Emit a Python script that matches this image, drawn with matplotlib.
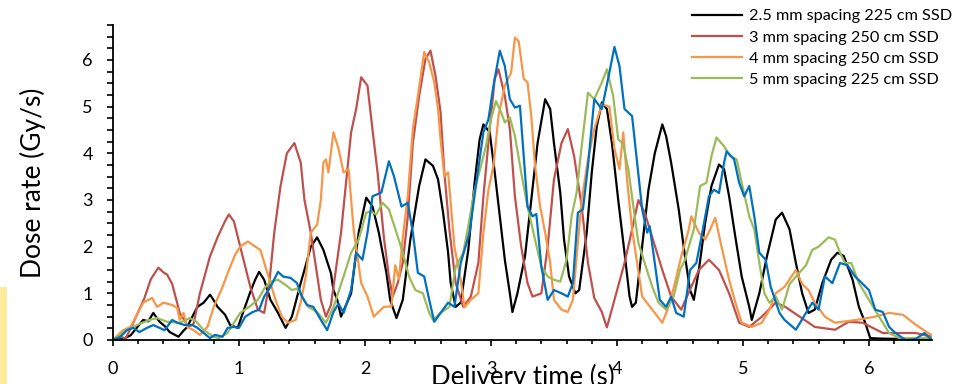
import matplotlib
matplotlib.use('Agg')
import matplotlib.pyplot as plt
from matplotlib.patches import Rectangle
from matplotlib.ticker import MultipleLocator

plt.rcParams['font.family'] = ['Lato', 'DejaVu Sans']

# Dose rate traces (time in s, dose rate in Gy/s)
t_black = [0, 0.08, 0.14, 0.2, 0.24, 0.28, 0.32, 0.37, 0.41, 0.45, 0.52, 0.56, 0.59, 0.63, 0.67, 0.72,
           0.77, 0.8, 0.83, 0.89, 0.93, 0.99, 1.04, 1.09, 1.13, 1.16, 1.2, 1.25, 1.31, 1.37, 1.42, 1.49,
           1.53, 1.57, 1.62, 1.67, 1.73, 1.75, 1.78, 1.81, 1.85, 1.89, 1.95, 2.01, 2.06, 2.11, 2.17, 2.2,
           2.25, 2.3, 2.36, 2.43, 2.48, 2.54, 2.58, 2.62, 2.66, 2.68, 2.72, 2.76, 2.82, 2.87, 2.91, 2.94,
           2.99, 3.03, 3.07, 3.11, 3.15, 3.17, 3.21, 3.27, 3.32, 3.37, 3.43, 3.47, 3.5, 3.55, 3.58, 3.62,
           3.67, 3.7, 3.76, 3.8, 3.84, 3.88, 3.92, 3.96, 4.01, 4.06, 4.1, 4.12, 4.15, 4.2, 4.25, 4.3,
           4.36, 4.39, 4.43, 4.49, 4.54, 4.58, 4.61, 4.65, 4.7, 4.75, 4.81, 4.85, 4.89, 4.94, 4.99, 5.05,
           5.07, 5.13, 5.19, 5.26, 5.31, 5.37, 5.42, 5.47, 5.52, 5.57, 5.63, 5.7, 5.75, 5.8, 5.87, 5.92,
           5.97, 6.01, 6.1, 6.3, 6.5]
black = [0, 0.02, 0.1, 0.3, 0.43, 0.4, 0.58, 0.39, 0.3, 0.17, 0.07, 0.2, 0.28, 0.5, 0.71, 0.8,
         0.97, 0.85, 0.71, 0.54, 0.32, 0.26, 0.65, 1.03, 1.3, 1.46, 1.29, 0.86, 0.58, 0.26, 0.5, 1.22,
         1.6, 2.0, 2.2, 1.93, 1.43, 1.07, 0.86, 0.5, 0.75, 1.0, 2.3, 3.05, 2.86, 2.3, 1.44, 0.86,
         0.47, 0.86, 2.15, 3.3, 3.87, 3.73, 3.44, 2.73, 1.87, 1.22, 0.71, 0.8, 1.93, 3.37, 4.3, 4.62,
         4.45, 3.59, 2.65, 1.72, 1.0, 0.6, 1.0, 1.79, 3.0, 4.22, 5.16, 4.95, 4.22, 3.16, 2.15, 1.36,
         1.0, 1.07, 2.3, 3.59, 4.58, 5.09, 4.95, 4.22, 3.0, 1.87, 0.93, 0.71, 0.8, 2.0, 3.22, 4.0,
         4.62, 4.37, 3.8, 2.8, 1.79, 1.07, 0.86, 1.5, 2.51, 3.3, 3.76, 3.66, 3.08, 2.2, 1.36, 0.71,
         0.43, 1.0, 1.79, 2.58, 2.73, 2.37, 1.65, 1.0, 0.58, 0.65, 1.22, 1.72, 1.87, 1.8, 1.29, 0.71,
         0.37, 0.04, 0.03, 0.02, 0.0]

t_red = [0, 0.05, 0.1, 0.15, 0.2, 0.25, 0.3, 0.36, 0.4, 0.43, 0.47, 0.53, 0.6, 0.64, 0.69, 0.77,
         0.83, 0.89, 0.92, 0.96, 1.01, 1.09, 1.15, 1.2, 1.24, 1.28, 1.33, 1.38, 1.44, 1.49, 1.52, 1.57,
         1.65, 1.69, 1.73, 1.81, 1.89, 1.93, 1.97, 2.02, 2.06, 2.1, 2.15, 2.19, 2.22, 2.26, 2.3, 2.34,
         2.38, 2.43, 2.48, 2.52, 2.56, 2.6, 2.63, 2.67, 2.72, 2.78, 2.84, 2.9, 2.94, 2.99, 3.03, 3.06,
         3.11, 3.15, 3.19, 3.24, 3.29, 3.33, 3.4, 3.45, 3.5, 3.56, 3.61, 3.66, 3.72, 3.77, 3.82, 3.88,
         3.92, 3.98, 4.06, 4.12, 4.17, 4.22, 4.28, 4.36, 4.43, 4.51, 4.59, 4.65, 4.73, 4.81, 4.89, 4.97,
         5.05, 5.15, 5.26, 5.33, 5.45, 5.57, 5.73, 5.84, 5.95, 6.11, 6.37, 6.5]
red = [0, 0.08, 0.03, 0.3, 0.6, 0.9, 1.3, 1.55, 1.45, 1.4, 1.2, 0.58, 0.28, 0.35, 1.0, 1.79,
       2.2, 2.55, 2.69, 2.54, 2.0, 1.14, 0.65, 0.58, 1.2, 2.3, 3.3, 4.0, 4.22, 3.8, 3.0, 2.3,
       0.86, 0.5, 0.75, 2.3, 4.45, 4.95, 5.63, 5.45, 4.5, 3.59, 2.2, 1.36, 0.93, 1.22, 1.65, 2.65,
       4.22, 5.23, 6.02, 6.2, 5.66, 4.88, 3.59, 2.37, 1.22, 0.71, 0.93, 1.65, 3.08, 4.52, 5.6, 5.8,
       5.23, 4.52, 3.08, 2.0, 1.22, 0.93, 1.0, 2.0, 3.44, 4.22, 4.52, 3.94, 2.86, 1.65, 0.9, 0.6,
       0.27, 0.86, 1.65, 2.37, 3.0, 2.73, 2.2, 1.5, 0.93, 0.65, 1.14, 1.5, 1.72, 1.5, 1.0, 0.37,
       0.28, 0.5, 0.8, 0.72, 0.5, 0.28, 0.22, 0.39, 0.37, 0.15, 0.15, 0.07]

t_orange = [0, 0.08, 0.14, 0.19, 0.24, 0.31, 0.35, 0.4, 0.47, 0.51, 0.53, 0.56, 0.59, 0.64, 0.69, 0.75,
            0.8, 0.87, 0.92, 0.97, 1.01, 1.07, 1.13, 1.17, 1.21, 1.25, 1.29, 1.34, 1.39, 1.45, 1.49, 1.53,
            1.57, 1.62, 1.65, 1.67, 1.69, 1.71, 1.75, 1.79, 1.83, 1.87, 1.91, 1.97, 2.02, 2.07, 2.15, 2.21,
            2.24, 2.27, 2.3, 2.34, 2.38, 2.42, 2.47, 2.51, 2.55, 2.58, 2.6, 2.63, 2.66, 2.71, 2.76, 2.79,
            2.84, 2.9, 2.94, 2.98, 3.02, 3.06, 3.11, 3.16, 3.19, 3.22, 3.26, 3.29, 3.32, 3.35, 3.39, 3.43,
            3.47, 3.5, 3.56, 3.61, 3.65, 3.72, 3.77, 3.82, 3.88, 3.94, 3.98, 4.02, 4.05, 4.08, 4.12, 4.16,
            4.2, 4.28, 4.36, 4.41, 4.46, 4.51, 4.57, 4.59, 4.65, 4.7, 4.74, 4.78, 4.83, 4.89, 4.94, 4.99,
            5.07, 5.15, 5.21, 5.26, 5.33, 5.42, 5.47, 5.52, 5.57, 5.65, 5.73, 5.9, 6.05, 6.16, 6.27, 6.35,
            6.43, 6.5]
orange = [0, 0.21, 0.28, 0.54, 0.8, 0.9, 0.71, 0.8, 0.75, 0.69, 0.43, 0.58, 0.28, 0.21, 0.11, 0.28,
          0.71, 1.14, 1.5, 1.83, 2.0, 2.11, 2.0, 1.93, 1.57, 1.22, 0.86, 0.5, 0.37, 0.43, 0.8, 1.36,
          2.3, 2.47, 3.0, 3.8, 3.87, 3.59, 4.45, 4.1, 3.59, 3.66, 2.37, 1.22, 0.93, 0.5, 0.71, 0.72,
          1.6, 1.3, 2.2, 3.08, 4.52, 5.23, 6.17, 5.95, 5.52, 4.95, 4.3, 3.5, 3.59, 2.0, 1.29, 0.7,
          0.86, 1.0, 2.3, 3.22, 3.73, 4.8, 5.45, 5.73, 6.48, 6.4, 5.6, 5.52, 4.8, 3.73, 2.86, 2.3,
          1.65, 0.86, 0.65, 0.6, 0.86, 3.0, 3.87, 4.52, 5.05, 5.0, 4.1, 3.66, 4.45, 3.44, 2.37, 1.65,
          0.93, 0.65, 0.37, 0.71, 1.22, 1.79, 2.37, 2.65, 2.3, 2.15, 2.37, 2.62, 2.0, 1.29, 0.8, 0.37,
          0.28, 0.37, 0.65, 1.0, 1.14, 1.5, 1.2, 1.07, 0.8, 0.5, 0.37, 0.43, 0.5, 0.58, 0.54, 0.37,
          0.22, 0.1]

t_green = [0, 0.11, 0.19, 0.29, 0.35, 0.43, 0.53, 0.61, 0.66, 0.72, 0.8, 0.84, 0.91, 0.96, 1.01, 1.08,
           1.15, 1.2, 1.25, 1.31, 1.37, 1.42, 1.46, 1.5, 1.55, 1.62, 1.69, 1.75, 1.83, 1.89, 1.95, 2.01,
           2.05, 2.09, 2.14, 2.19, 2.25, 2.3, 2.35, 2.4, 2.46, 2.51, 2.54, 2.6, 2.67, 2.72, 2.78, 2.82,
           2.87, 2.92, 2.96, 3.0, 3.04, 3.08, 3.11, 3.15, 3.19, 3.24, 3.29, 3.35, 3.4, 3.45, 3.5, 3.55,
           3.6, 3.64, 3.68, 3.72, 3.77, 3.82, 3.88, 3.92, 3.97, 4.01, 4.05, 4.09, 4.13, 4.17, 4.22, 4.28,
           4.33, 4.39, 4.45, 4.5, 4.54, 4.61, 4.66, 4.71, 4.75, 4.79, 4.85, 4.9, 4.95, 4.99, 5.05, 5.09,
           5.13, 5.17, 5.21, 5.26, 5.31, 5.37, 5.45, 5.5, 5.55, 5.6, 5.68, 5.73, 5.77, 5.81, 5.86, 5.92,
           6.0, 6.08, 6.16, 6.24, 6.4, 6.5]
green = [0, 0.21, 0.32, 0.43, 0.47, 0.39, 0.37, 0.47, 0.4, 0.21, 0.07, 0.04, 0.15, 0.37, 0.58, 0.71,
         0.86, 1.1, 1.25, 1.29, 1.18, 1.07, 1.1, 0.93, 0.71, 0.6, 0.37, 0.7, 1.36, 1.87, 2.15, 2.73,
         2.75, 2.69, 2.94, 2.8, 2.3, 1.87, 1.36, 1.07, 1.0, 0.58, 0.43, 0.58, 0.71, 1.57, 1.87, 2.44,
         3.22, 3.73, 4.15, 4.73, 5.12, 4.88, 4.66, 4.77, 4.37, 3.59, 2.86, 2.15, 1.57, 1.36, 1.29, 1.25,
         1.72, 2.65, 3.16, 4.15, 5.3, 5.16, 5.52, 5.8, 5.23, 4.3, 4.2, 3.66, 2.86, 2.08, 1.65, 1.14,
         0.8, 0.65, 0.93, 1.5, 1.72, 2.37, 3.3, 3.37, 3.94, 4.34, 4.15, 3.94, 3.87, 3.37, 2.65, 2.37,
         1.65, 1.0, 0.8, 0.93, 0.65, 1.2, 1.45, 1.6, 1.93, 2.0, 2.2, 2.15, 1.87, 1.65, 1.65, 1.22,
         0.86, 0.5, 0.15, 0.04, 0.04, 0.05]

t_blue = [0, 0.06, 0.11, 0.16, 0.21, 0.27, 0.32, 0.37, 0.41, 0.47, 0.51, 0.57, 0.63, 0.67, 0.72, 0.77,
          0.81, 0.87, 0.91, 0.96, 1.0, 1.05, 1.11, 1.16, 1.2, 1.25, 1.31, 1.35, 1.41, 1.46, 1.5, 1.54,
          1.59, 1.65, 1.7, 1.75, 1.79, 1.83, 1.89, 1.93, 1.98, 2.02, 2.06, 2.13, 2.19, 2.23, 2.29, 2.34,
          2.38, 2.42, 2.47, 2.51, 2.55, 2.6, 2.66, 2.71, 2.76, 2.83, 2.88, 2.94, 2.98, 3.02, 3.07, 3.11,
          3.15, 3.19, 3.23, 3.25, 3.29, 3.33, 3.36, 3.4, 3.45, 3.5, 3.56, 3.61, 3.65, 3.69, 3.73, 3.77,
          3.82, 3.88, 3.93, 3.98, 4.02, 4.06, 4.12, 4.16, 4.2, 4.24, 4.26, 4.3, 4.34, 4.39, 4.43, 4.47,
          4.53, 4.58, 4.63, 4.67, 4.73, 4.77, 4.81, 4.85, 4.87, 4.93, 4.97, 5.01, 5.05, 5.09, 5.13, 5.18,
          5.22, 5.29, 5.33, 5.42, 5.5, 5.55, 5.6, 5.65, 5.71, 5.77, 5.83, 5.89, 6.0, 6.05, 6.11, 6.16,
          6.21, 6.29, 6.37, 6.44, 6.5]
blue = [0, 0.07, 0.21, 0.26, 0.17, 0.26, 0.32, 0.26, 0.21, 0.43, 0.37, 0.32, 0.32, 0.26, 0.15, 0.04,
        0.11, 0.07, 0.26, 0.28, 0.26, 0.5, 0.6, 0.65, 0.93, 1.14, 1.46, 1.36, 1.33, 1.22, 0.93, 0.75,
        0.71, 0.43, 0.21, 0.6, 0.78, 0.58, 1.07, 1.87, 1.72, 2.3, 3.08, 3.16, 3.83, 3.51, 2.86, 2.94,
        2.3, 1.44, 1.36, 0.86, 0.39, 0.58, 0.8, 0.71, 1.65, 2.3, 3.3, 4.45, 4.73, 5.45, 6.2, 5.87,
        5.16, 4.98, 5.02, 4.3, 2.86, 2.65, 2.7, 1.57, 0.86, 1.07, 1.0, 0.93, 1.22, 2.73, 2.8, 3.73,
        5.16, 4.95, 5.6, 6.28, 5.87, 4.95, 4.8, 3.8, 2.8, 2.3, 2.44, 1.65, 0.86, 0.71, 0.93, 0.58,
        0.5, 1.5, 1.65, 2.2, 3.08, 3.22, 3.15, 3.8, 4.04, 3.87, 3.37, 3.08, 3.3, 2.65, 1.87, 1.72,
        1.14, 0.58, 0.43, 0.22, 0.58, 0.8, 0.65, 1.36, 1.22, 1.65, 1.6, 1.36, 1.07, 0.65, 0.6, 0.28,
        0.15, 0.0, 0.02, 0.15, 0.0]

fig = plt.figure(figsize=(9.59, 3.84), dpi=100)
ax = fig.add_axes([0.1178, 0.1146, 0.854, 0.8203])

lw = 1.6
ax.plot(t_black, black, color='#000000', lw=lw, label='2.5 mm spacing 225 cm SSD')
ax.plot(t_red, red, color='#C0504D', lw=lw, label='3 mm spacing 250 cm SSD')
ax.plot(t_orange, orange, color='#F79646', lw=lw, label='4 mm spacing 250 cm SSD')
ax.plot(t_green, green, color='#9BBB59', lw=lw, label='5 mm spacing 225 cm SSD')
ax.plot(t_blue, blue, color='#0070C0', lw=lw)

ax.set_xlim(0, 6.5)
ax.set_ylim(0, 6.75)
ax.xaxis.set_major_locator(MultipleLocator(1))
ax.xaxis.set_minor_locator(MultipleLocator(0.2))
ax.yaxis.set_major_locator(MultipleLocator(1))
ax.yaxis.set_minor_locator(MultipleLocator(0.25))

for side in ['top', 'right']:
    ax.spines[side].set_visible(False)
for side in ['left', 'bottom']:
    ax.spines[side].set_linewidth(1.3)

ax.tick_params(axis='both', which='both', direction='out', width=1.2, labelsize=13)
ax.tick_params(axis='y', which='both', length=4.5, pad=10)
ax.tick_params(axis='x', which='major', length=4, pad=11)
ax.tick_params(axis='x', which='minor', length=3)

ax.set_ylabel('Dose rate (Gy/s)', fontsize=19)
ax.yaxis.label.set_va('center')
ax.yaxis.set_label_coords(-0.098, 0.5)
ax.set_xlabel('Delivery time (s)', fontsize=18.5)
ax.xaxis.label.set_va('baseline')
ax.xaxis.set_label_coords(0.5, -0.143)

ax.legend(loc='upper left', bbox_to_anchor=(692 / 959, 1 - 9 / 384), bbox_transform=fig.transFigure,
          frameon=False, fontsize=11.7, borderpad=0, borderaxespad=0, handlelength=3.1,
          handletextpad=0.4, labelspacing=0.42)

# pale yellow strip along the left edge
fig.patches.append(Rectangle((0, 0), 7 / 959, 97 / 384, transform=fig.transFigure,
                             facecolor='#FFEB9C', edgecolor='none'))

fig.savefig('out.png', dpi=100)
